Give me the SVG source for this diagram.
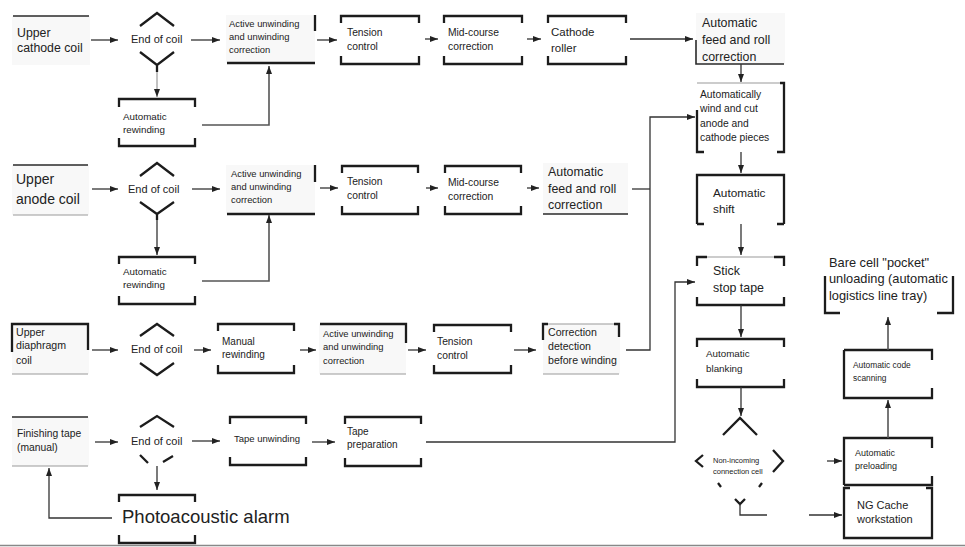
<svg xmlns="http://www.w3.org/2000/svg" width="965" height="547" viewBox="0 0 965 547">
<style>
text{font-family:"Liberation Sans",Arial,sans-serif;fill:#222}
.br{fill:none;stroke:#1c1c1c;stroke-width:2.3}
.ln{fill:none;stroke:#2a2a2a;stroke-width:1.6}
.lt{fill:none;stroke:#999;stroke-width:1.2}
.bg{fill:#f8f8f8;stroke:none}
.c{fill:none;stroke:#333;stroke-width:1.3}
.cg{fill:none;stroke:#555;stroke-width:1.6}
</style>
<defs>
<marker id="ah" markerWidth="8" markerHeight="6" refX="8" refY="3" orient="auto" markerUnits="userSpaceOnUse">
<path d="M0 0 L8 3 L0 6 z" fill="#222"/>
</marker>
</defs>
<rect width="965" height="547" fill="#fff"/>

<g id="n1"><rect class="bg" x="12" y="16" width="78" height="49"/><path class="ln" d="M13 16 H89"/><text font-size="12.3"><tspan x="17" y="37">Upper</tspan><tspan x="17" y="52">cathode coil</tspan></text></g>
<g id="d1"><path class="br" d="M140 26 L157 13 L174 26 M140 52 L157 65 L174 52 M157 65 V72"/><text x="131" y="43" font-size="11">End of coil</text></g>
<g id="r1"><path class="br" d="M119 107 V99 H195 V107 M119 138 V146 H195 V138"/><text font-size="9.8"><tspan x="123" y="120">Automatic</tspan><tspan x="123" y="133">rewinding</tspan></text></g>
<g id="a1"><rect class="bg" x="226" y="15" width="89" height="48"/><path class="br" d="M227 63 H315 M315 15 V31"/><text font-size="9.4"><tspan x="229" y="27">Active unwinding</tspan><tspan x="229" y="40">and unwinding</tspan><tspan x="229" y="53">correction</tspan></text></g>
<g id="t1"><path class="br" d="M341 23 V16 H419 V23 M341 56 V64 H419 V56"/><text font-size="10.3"><tspan x="347" y="36">Tension</tspan><tspan x="347" y="50">control</tspan></text></g>
<g id="m1"><path class="br" d="M444 23 V16 H522 V23 M444 56 V64 H522 V56"/><text font-size="10.3"><tspan x="448" y="36">Mid-course</tspan><tspan x="448" y="50">correction</tspan></text></g>
<g id="c1"><path class="br" d="M548 23 V16 H626 V23 M548 56 V64 H626 V56"/><text font-size="11.5"><tspan x="551" y="36">Cathode</tspan><tspan x="551" y="52">roller</tspan></text></g>
<g id="f1"><rect class="bg" x="696" y="13" width="89" height="51"/><path class="ln" d="M696 40 V64 H784"/><text font-size="12.4"><tspan x="702" y="27">Automatic</tspan><tspan x="702" y="44">feed and roll</tspan><tspan x="702" y="61">correction</tspan></text></g>
<g id="w1"><path class="lt" d="M697 83 H784"/><path class="br" d="M780 83 H784 V152 H777 M697 110 V152 H704"/><text font-size="10.3"><tspan x="700" y="98">Automatically</tspan><tspan x="700" y="112">wind and cut</tspan><tspan x="700" y="127">anode and</tspan><tspan x="700" y="141">cathode pieces</tspan></text></g>
<g id="s1"><path class="br" d="M697 224 V175 H784 V224 M697 224 H704 M777 224 H784"/><text font-size="11.8"><tspan x="713" y="197">Automatic</tspan><tspan x="713" y="213">shift</tspan></text></g>
<g id="st"><path class="lt" d="M707 257 H774"/><path class="br" d="M697 266 V257 H707 M774 257 H784 V266 M697 297 V305 H784 V297"/><text font-size="12.4"><tspan x="713" y="275">Stick</tspan><tspan x="713" y="292">stop tape</tspan></text></g>
<g id="bl"><path class="br" d="M697 347 V339 H784 V347 M697 379 V387 H784 V379"/><text font-size="9.8"><tspan x="706" y="357">Automatic</tspan><tspan x="706" y="372">blanking</tspan></text></g>
<g id="nc"><path class="br" d="M723 435 L740 418 L757 435 M703 455 L696 461 L703 467 M773 450 L783 461 L773 472 M718 483 L721 487 M762 483 L759 487 M735 499 L740 504 L745 499"/><text font-size="7.5"><tspan x="713" y="463">Non-incoming</tspan><tspan x="713" y="474">connection cell</tspan></text></g>
<g id="pl"><path class="br" d="M844 485 V438 H932 V448 M932 476 V485 H844"/><text font-size="9"><tspan x="855" y="456">Automatic</tspan><tspan x="855" y="469">preloading</tspan></text></g>
<g id="ng"><path class="br" d="M844 494 V538 H932 V488 H926 M844 494 V488 H850"/><text font-size="11"><tspan x="857" y="509">NG Cache</tspan><tspan x="857" y="523">workstation</tspan></text></g>
<g id="cs"><path class="br" d="M844 350 V398 H932 V388 M932 360 V350 H844"/><text font-size="8.4"><tspan x="853" y="368">Automatic code</tspan><tspan x="853" y="381">scanning</tspan></text></g>
<g id="bc"><path class="br" d="M825 276 V313 H840 M937 313 H953 V276"/><text font-size="12.8"><tspan x="829" y="267">Bare cell "pocket"</tspan><tspan x="829" y="283">unloading (automatic</tspan><tspan x="829" y="300">logistics line tray)</tspan></text></g>

<g id="n2"><rect class="bg" x="12" y="165" width="77" height="50"/><path class="ln" d="M13 165 H88"/><path class="lt" d="M13 215 H88"/><text font-size="14"><tspan x="16" y="184">Upper</tspan><tspan x="16" y="204">anode coil</tspan></text></g>
<g id="d2"><path class="br" d="M140 176 L157 163 L174 176 M140 202 L157 214 L174 202 M157 214 V220"/><text x="128" y="193" font-size="11">End of coil</text></g>
<g id="r2"><path class="br" d="M119 264 V257 H195 V264 M119 296 V304 H195 V296"/><text font-size="9.8"><tspan x="123" y="275">Automatic</tspan><tspan x="123" y="288">rewinding</tspan></text></g>
<g id="a2"><rect class="bg" x="226" y="165" width="89" height="49"/><path class="br" d="M227 214 H315 M315 165 V182"/><text font-size="9.4"><tspan x="231" y="177">Active unwinding</tspan><tspan x="231" y="190">and unwinding</tspan><tspan x="231" y="203">correction</tspan></text></g>
<g id="t2"><path class="br" d="M342 173 V166 H418 V173 M342 206 V214 H418 V206"/><text font-size="10.3"><tspan x="347" y="185">Tension</tspan><tspan x="347" y="199">control</tspan></text></g>
<g id="m2"><path class="br" d="M445 173 V166 H521 V173 M445 206 V214 H521 V206"/><text font-size="10.3"><tspan x="448" y="186">Mid-course</tspan><tspan x="448" y="200">correction</tspan></text></g>
<g id="f2"><rect class="bg" x="543" y="163" width="85" height="51"/><path class="ln" d="M543 214 H628"/><text font-size="12.4"><tspan x="548" y="176">Automatic</tspan><tspan x="548" y="193">feed and roll</tspan><tspan x="548" y="209">correction</tspan></text></g>

<g id="n3"><rect class="bg" x="12" y="324" width="77" height="50"/><path class="br" d="M12 352 V324 H88 V350"/><path class="lt" d="M12 374 H88"/><text font-size="10.6"><tspan x="16" y="336">Upper</tspan><tspan x="16" y="349">diaphragm</tspan><tspan x="16" y="364">coil</tspan></text></g>
<g id="d3"><path class="br" d="M140 336 L157 324 L174 336 M140 363 L157 375 L174 363"/><text x="131" y="353" font-size="11">End of coil</text></g>
<g id="mr"><path class="br" d="M218 331 V324 H294 V331 M218 365 V373 H294 V365"/><text font-size="10"><tspan x="222" y="345">Manual</tspan><tspan x="222" y="358">rewinding</tspan></text></g>
<g id="a3"><rect class="bg" x="319" y="324" width="87" height="50"/><path class="br" d="M320 324 H406 V343"/><path class="lt" d="M320 374 H406"/><text font-size="9.4"><tspan x="323" y="337">Active unwinding</tspan><tspan x="323" y="350">and unwinding</tspan><tspan x="323" y="364">correction</tspan></text></g>
<g id="t3"><path class="br" d="M434 332 V325 H511 V332 M434 365 V373 H511 V365"/><text font-size="10.3"><tspan x="437" y="345">Tension</tspan><tspan x="437" y="359">control</tspan></text></g>
<g id="cd"><rect class="bg" x="543" y="324" width="77" height="50"/><path class="lt" d="M548 324 H614 M543 374 H619"/><path class="br" d="M543 340 V324 H548 M614 324 H619 V337"/><text font-size="10.6"><tspan x="548" y="336">Correction</tspan><tspan x="548" y="350">detection</tspan><tspan x="548" y="364">before winding</tspan></text></g>

<g id="n4"><rect class="bg" x="12" y="417" width="77" height="49"/><path class="ln" d="M12 417 H88"/><path class="lt" d="M12 466 H88"/><text font-size="10.3"><tspan x="17" y="437">Finishing tape</tspan><tspan x="17" y="451">(manual)</tspan></text></g>
<g id="d4"><path class="br" d="M140 427 L157 416 L174 427 M140 455 L148 463 M163 462 L173 456"/><text x="131" y="445" font-size="11">End of coil</text></g>
<g id="tu"><path class="br" d="M230 424 V417 H306 V424 M230 457 V465 H306 V457"/><text x="234" y="442" font-size="9.5">Tape unwinding</text></g>
<g id="tp"><path class="br" d="M345 424 V417 H421 V424 M345 458 V466 H421 V458"/><text font-size="10"><tspan x="347" y="435">Tape</tspan><tspan x="347" y="448">preparation</tspan></text></g>
<g id="pa"><path class="br" d="M119 502 V495 H195 V502 M119 535 V543 H195 V535"/><text x="122" y="523" font-size="18.5">Photoacoustic alarm</text></g>

<g id="connectors">
<path class="c" marker-end="url(#ah)" d="M91 40 H118"/>
<path class="lt" marker-end="url(#ah)" d="M157 72 V97"/>
<path class="cg" marker-end="url(#ah)" d="M202 125 H269 V66"/>
<path class="c" marker-end="url(#ah)" d="M191 40 H220"/>
<path class="c" marker-end="url(#ah)" d="M317 40 H337"/>
<path class="c" marker-end="url(#ah)" d="M425 39 H438"/>
<path class="c" marker-end="url(#ah)" d="M527 39 H541"/>
<path class="c" marker-end="url(#ah)" d="M630 39 H693"/>
<path class="c" marker-end="url(#ah)" d="M741 64 V82"/>
<path class="c" marker-end="url(#ah)" d="M626 350 H650 V117 H695"/>
<path class="c" d="M632 189 H650"/>
<path class="c" marker-end="url(#ah)" d="M741 152 V173"/>
<path class="c" marker-end="url(#ah)" d="M741 224 V255"/>
<path class="c" marker-end="url(#ah)" d="M426 442 H675 V282 H695"/>
<path class="c" marker-end="url(#ah)" d="M741 305 V337"/>
<path class="c" marker-end="url(#ah)" d="M741 387 V416"/>
<path class="c" d="M740 504 V515 H767"/>
<path class="c" marker-end="url(#ah)" d="M809 515 H842"/>
<path class="c" marker-end="url(#ah)" d="M827 461 H842"/>
<path class="cg" marker-end="url(#ah)" d="M888 438 V400"/>
<path class="cg" marker-end="url(#ah)" d="M888 350 V317"/>
<path class="c" marker-end="url(#ah)" d="M92 189 H118"/>
<path class="c" marker-end="url(#ah)" d="M157 220 V255"/>
<path class="cg" marker-end="url(#ah)" d="M202 281 H269 V215"/>
<path class="c" marker-end="url(#ah)" d="M192 189 H220"/>
<path class="c" marker-end="url(#ah)" d="M320 188 H338"/>
<path class="c" marker-end="url(#ah)" d="M426 188 H438"/>
<path class="c" marker-end="url(#ah)" d="M527 188 H539"/>
<path class="c" marker-end="url(#ah)" d="M92 350 H118"/>
<path class="c" marker-end="url(#ah)" d="M194 350 H211"/>
<path class="c" marker-end="url(#ah)" d="M300 350 H316"/>
<path class="c" marker-end="url(#ah)" d="M408 350 H426"/>
<path class="c" marker-end="url(#ah)" d="M514 350 H536"/>
<path class="c" marker-end="url(#ah)" d="M95 442 H118"/>
<path class="c" marker-end="url(#ah)" d="M192 441 H220"/>
<path class="c" marker-end="url(#ah)" d="M312 442 H335"/>
<path class="c" marker-end="url(#ah)" d="M157 466 V490"/>
<path class="c" marker-end="url(#ah)" d="M112 518 H49 V468"/>
</g>
<path d="M0 545.5 H965" stroke="#888" stroke-width="1.5"/>
</svg>
